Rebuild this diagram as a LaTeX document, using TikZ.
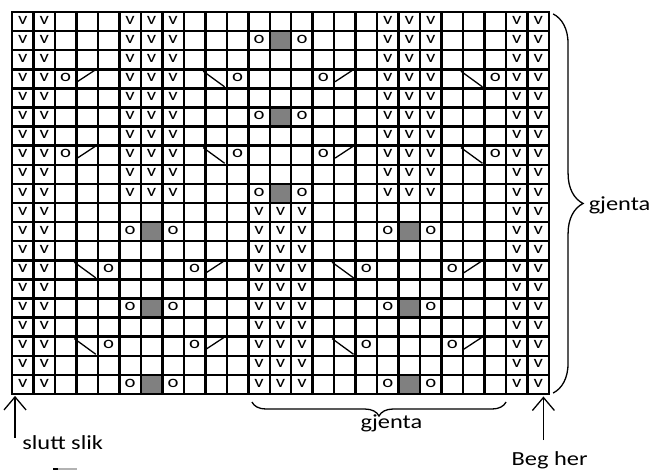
\documentclass[tikz,border=0pt]{standalone}
\usepackage{fontspec}
\setmainfont{Carlito}
\usetikzlibrary{arrows.meta, decorations.pathreplacing}
\definecolor{cellgray}{RGB}{128,128,128}
\newcommand{\wtxt}[1]{\scalebox{1.22}[1]{#1}}

\begin{document}
\begin{tikzpicture}[
    x=21.48pt, y=-19.1pt,
    >={Straight Barb[length=13pt,width=22pt]},
    line width=1.3pt,
    gridline/.style={line width=2.5pt},
    stitch/.style={font=\fontsize{17}{17}\selectfont, inner sep=0pt, yshift=1.5pt},
    labeltext/.style={font=\fontsize{20}{20}\selectfont, inner sep=0pt, anchor=base west}
]

% Page frame
\useasboundingbox (-0.5587,-0.6283) rectangle (30.214,23.979);

% Grey cells
\foreach \c/\r in {12/1,12/5,12/9,6/11,18/11,6/15,18/15,6/19,18/19} {
    \fill[cellgray] (\c,\r) rectangle ++(1,1);
}

% Grid
\foreach \c in {0,...,25} {
    \draw[gridline] (\c,0) -- (\c,20);
}
\foreach \r in {0,...,20} {
    \draw[gridline] (0,\r) -- (25,\r);
}
\draw[gridline] (0,0) rectangle (25,20);

% Slipped stitches, upper half
\foreach \r in {0,...,9} {
    \foreach \c in {0,1,5,6,7,17,18,19,23,24} {
        \node[stitch] (v-\c-\r) at (\c+0.5,\r+0.5) {\wtxt{v}};
    }
}
% Slipped stitches, lower half
\foreach \r in {10,...,19} {
    \foreach \c in {0,1,11,12,13,23,24} {
        \node[stitch] (v-\c-\r) at (\c+0.5,\r+0.5) {\wtxt{v}};
    }
}

% Yarn overs
\foreach \r in {1,5,9} {
    \foreach \c in {11,13} {
        \node[stitch] (o-\c-\r) at (\c+0.5,\r+0.5) {\wtxt{o}};
    }
}
\foreach \r in {11,15,19} {
    \foreach \c in {5,7,17,19} {
        \node[stitch] (o-\c-\r) at (\c+0.5,\r+0.5) {\wtxt{o}};
    }
}
\foreach \r in {3,7} {
    \foreach \c in {2,10,14,22} {
        \node[stitch] (o-\c-\r) at (\c+0.5,\r+0.5) {\wtxt{o}};
    }
}
\foreach \r in {13,17} {
    \foreach \c in {4,8,16,20} {
        \node[stitch] (o-\c-\r) at (\c+0.5,\r+0.5) {\wtxt{o}};
    }
}

% Decreases
\foreach \c/\r in {3/3,15/3,3/7,15/7,9/13,21/13,9/17,21/17} {
    \draw (\c+0.04,\r+0.65) -- (\c+0.88,\r+0.03);
}
\foreach \c/\r in {9/3,21/3,9/7,21/7,3/13,15/13,3/17,15/17} {
    \draw (\c-0.1,\r+0.1) -- (\c+0.9,\r+0.92);
}

% Repeat braces
\coordinate (rtop) at (25.19,0.1);
\coordinate (rbot) at (25.19,19.95);
\draw[decorate, decoration={brace, amplitude=30pt}] (rtop) -- (rbot);
\coordinate (bright) at (23.0,20.42);
\coordinate (bleft) at (11.17,20.42);
\draw[decorate, decoration={brace, amplitude=14pt}] (bright) -- (bleft);

% Labels
\node[labeltext] (gjenta-r) at (26.82,10.37) {\wtxt{gjenta}};
\node[labeltext] (gjenta-b) at (16.2,21.78) {\wtxt{gjenta}};
\node[labeltext] (slutt) at (0.45,22.93) {\wtxt{slutt slik}};
\node[labeltext] (beg) at (23.23,23.72) {\wtxt{Beg her}};

% Start and end arrows
\coordinate (endtip) at (0.14,20.1);
\coordinate (endtail) at (0.14,22.3);
\draw[->] (endtail) -- (endtip);
\coordinate (begtip) at (24.74,20.13);
\coordinate (begtail) at (24.74,22.41);
\draw[->] (begtail) -- (begtip);

% Cut-off key box
\fill[black] (1.91,23.87) rectangle (2.15,24.5);
\fill[gray!60] (2.15,23.87) rectangle (3.03,24.5);

\end{tikzpicture}
\end{document}
